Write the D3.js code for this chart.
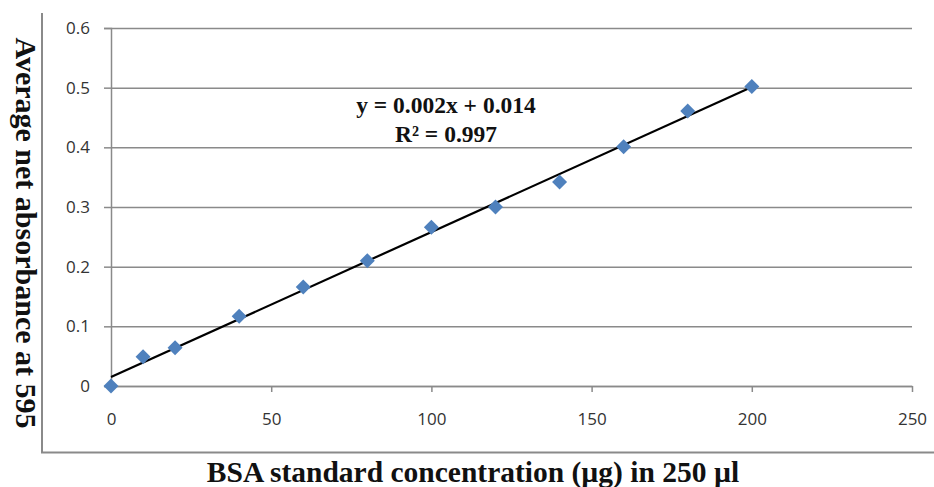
<!DOCTYPE html>
<html>
<head>
<meta charset="utf-8">
<script src="https://cdn.jsdelivr.net/npm/d3@7"></script>
<style>
  body { margin: 0; background: #fff; }
  .label { font-family: "Liberation Serif", "Times New Roman", serif; font-weight: bold; fill: #111; }
</style>
</head>
<body>
<div id="chart"></div>
<script>
// BSA standard curve
const concentration = [0, 10, 20, 40, 60, 80, 100, 120, 140, 160, 180, 200];
const absorbance = [0, 0.049, 0.064, 0.117, 0.166, 0.21, 0.266, 0.3, 0.342, 0.401, 0.461, 0.502];
const xTicks = [0, 50, 100, 150, 200, 250];
const yTicks = [0, 0.1, 0.2, 0.3, 0.4, 0.5, 0.6];
const equationLines = ["y = 0.002x + 0.014", "R\u00b2 = 0.997"];

const width = 934;
const height = 487;
const margin = { top: 28, right: 22, bottom: 101, left: 111 };

const svg = d3.select("#chart")
    .append("svg")
    .attr("width", width)
    .attr("height", height);

const x = d3.scaleLinear()
    .domain([0, 250])
    .range([margin.left, width - margin.right]);

const y = d3.scaleLinear()
    .domain([0, 0.6])
    .range([height - margin.bottom, margin.top]);

// outer frame (left and bottom only)
svg.append("path")
    .attr("d", `M42,13V452.5H${width}`)
    .attr("fill", "none")
    .attr("stroke", "#8a8a8a")
    .attr("stroke-width", 2);

// horizontal gridlines + y axis
const yAxis = svg.append("g")
    .attr("transform", `translate(${margin.left},0)`)
    .call(d3.axisLeft(y)
        .tickValues(yTicks)
        .tickFormat(d => d === 0 ? "0" : d3.format(".1f")(d))
        .tickSize(7)
        .tickPadding(14));
yAxis.select(".domain").attr("stroke", "#8a8a8a").attr("stroke-width", 1.5);
yAxis.selectAll(".tick line").attr("stroke", "#8a8a8a").attr("stroke-width", 1.5);
yAxis.selectAll(".tick").append("line")
    .attr("x1", 0)
    .attr("x2", x(250) - margin.left)
    .attr("stroke", "#8a8a8a")
    .attr("stroke-width", 1.5);

// x axis
const xAxis = svg.append("g")
    .attr("transform", `translate(0,${y(0)})`)
    .call(d3.axisBottom(x)
        .tickValues(xTicks)
        .tickSize(6)
        .tickSizeOuter(0)
        .tickPadding(21));
xAxis.select(".domain").attr("stroke", "#8a8a8a").attr("stroke-width", 1.5);
xAxis.selectAll(".tick line").attr("stroke", "#8a8a8a").attr("stroke-width", 1.5);

svg.selectAll(".tick text")
    .attr("font-family", "'Open Sans', sans-serif")
    .attr("font-size", 17)
    .attr("fill", "#333");

// least squares trendline
const mx = d3.mean(concentration);
const my = d3.mean(absorbance);
const slope = d3.sum(concentration, (c, i) => (c - mx) * (absorbance[i] - my)) /
    d3.sum(concentration, c => (c - mx) * (c - mx));
const intercept = my - slope * mx;
const xExtent = d3.extent(concentration);

svg.append("line")
    .attr("x1", x(xExtent[0]))
    .attr("y1", y(intercept + slope * xExtent[0]))
    .attr("x2", x(xExtent[1]))
    .attr("y2", y(intercept + slope * xExtent[1]))
    .attr("stroke", "#000")
    .attr("stroke-width", 2.2);

// diamonds
svg.selectAll(".pt")
    .data(concentration)
    .enter().append("path")
    .attr("class", "pt")
    .attr("transform", (d, i) => `translate(${x(d)},${y(absorbance[i])})`)
    .attr("d", "M0,-7.5L7.5,0L0,7.5L-7.5,0Z")
    .attr("fill", "#4f81bd");

// equation
svg.selectAll(".eq")
    .data(equationLines)
    .enter().append("text")
    .attr("class", "label eq")
    .attr("x", 446)
    .attr("y", (d, i) => 113 + i * 29)
    .attr("text-anchor", "middle")
    .attr("font-size", 23.5)
    .text(d => d);

// axis titles
svg.append("text")
    .attr("class", "label")
    .attr("x", 473)
    .attr("y", 482)
    .attr("text-anchor", "middle")
    .attr("font-size", 29.5)
    .text("BSA standard concentration (\u00b5g) in 250 \u00b5l");

svg.append("text")
    .attr("class", "label")
    .attr("transform", "translate(16,233) rotate(90)")
    .attr("text-anchor", "middle")
    .attr("font-size", 30)
    .text("Average net absorbance at 595");
</script>
</body>
</html>
